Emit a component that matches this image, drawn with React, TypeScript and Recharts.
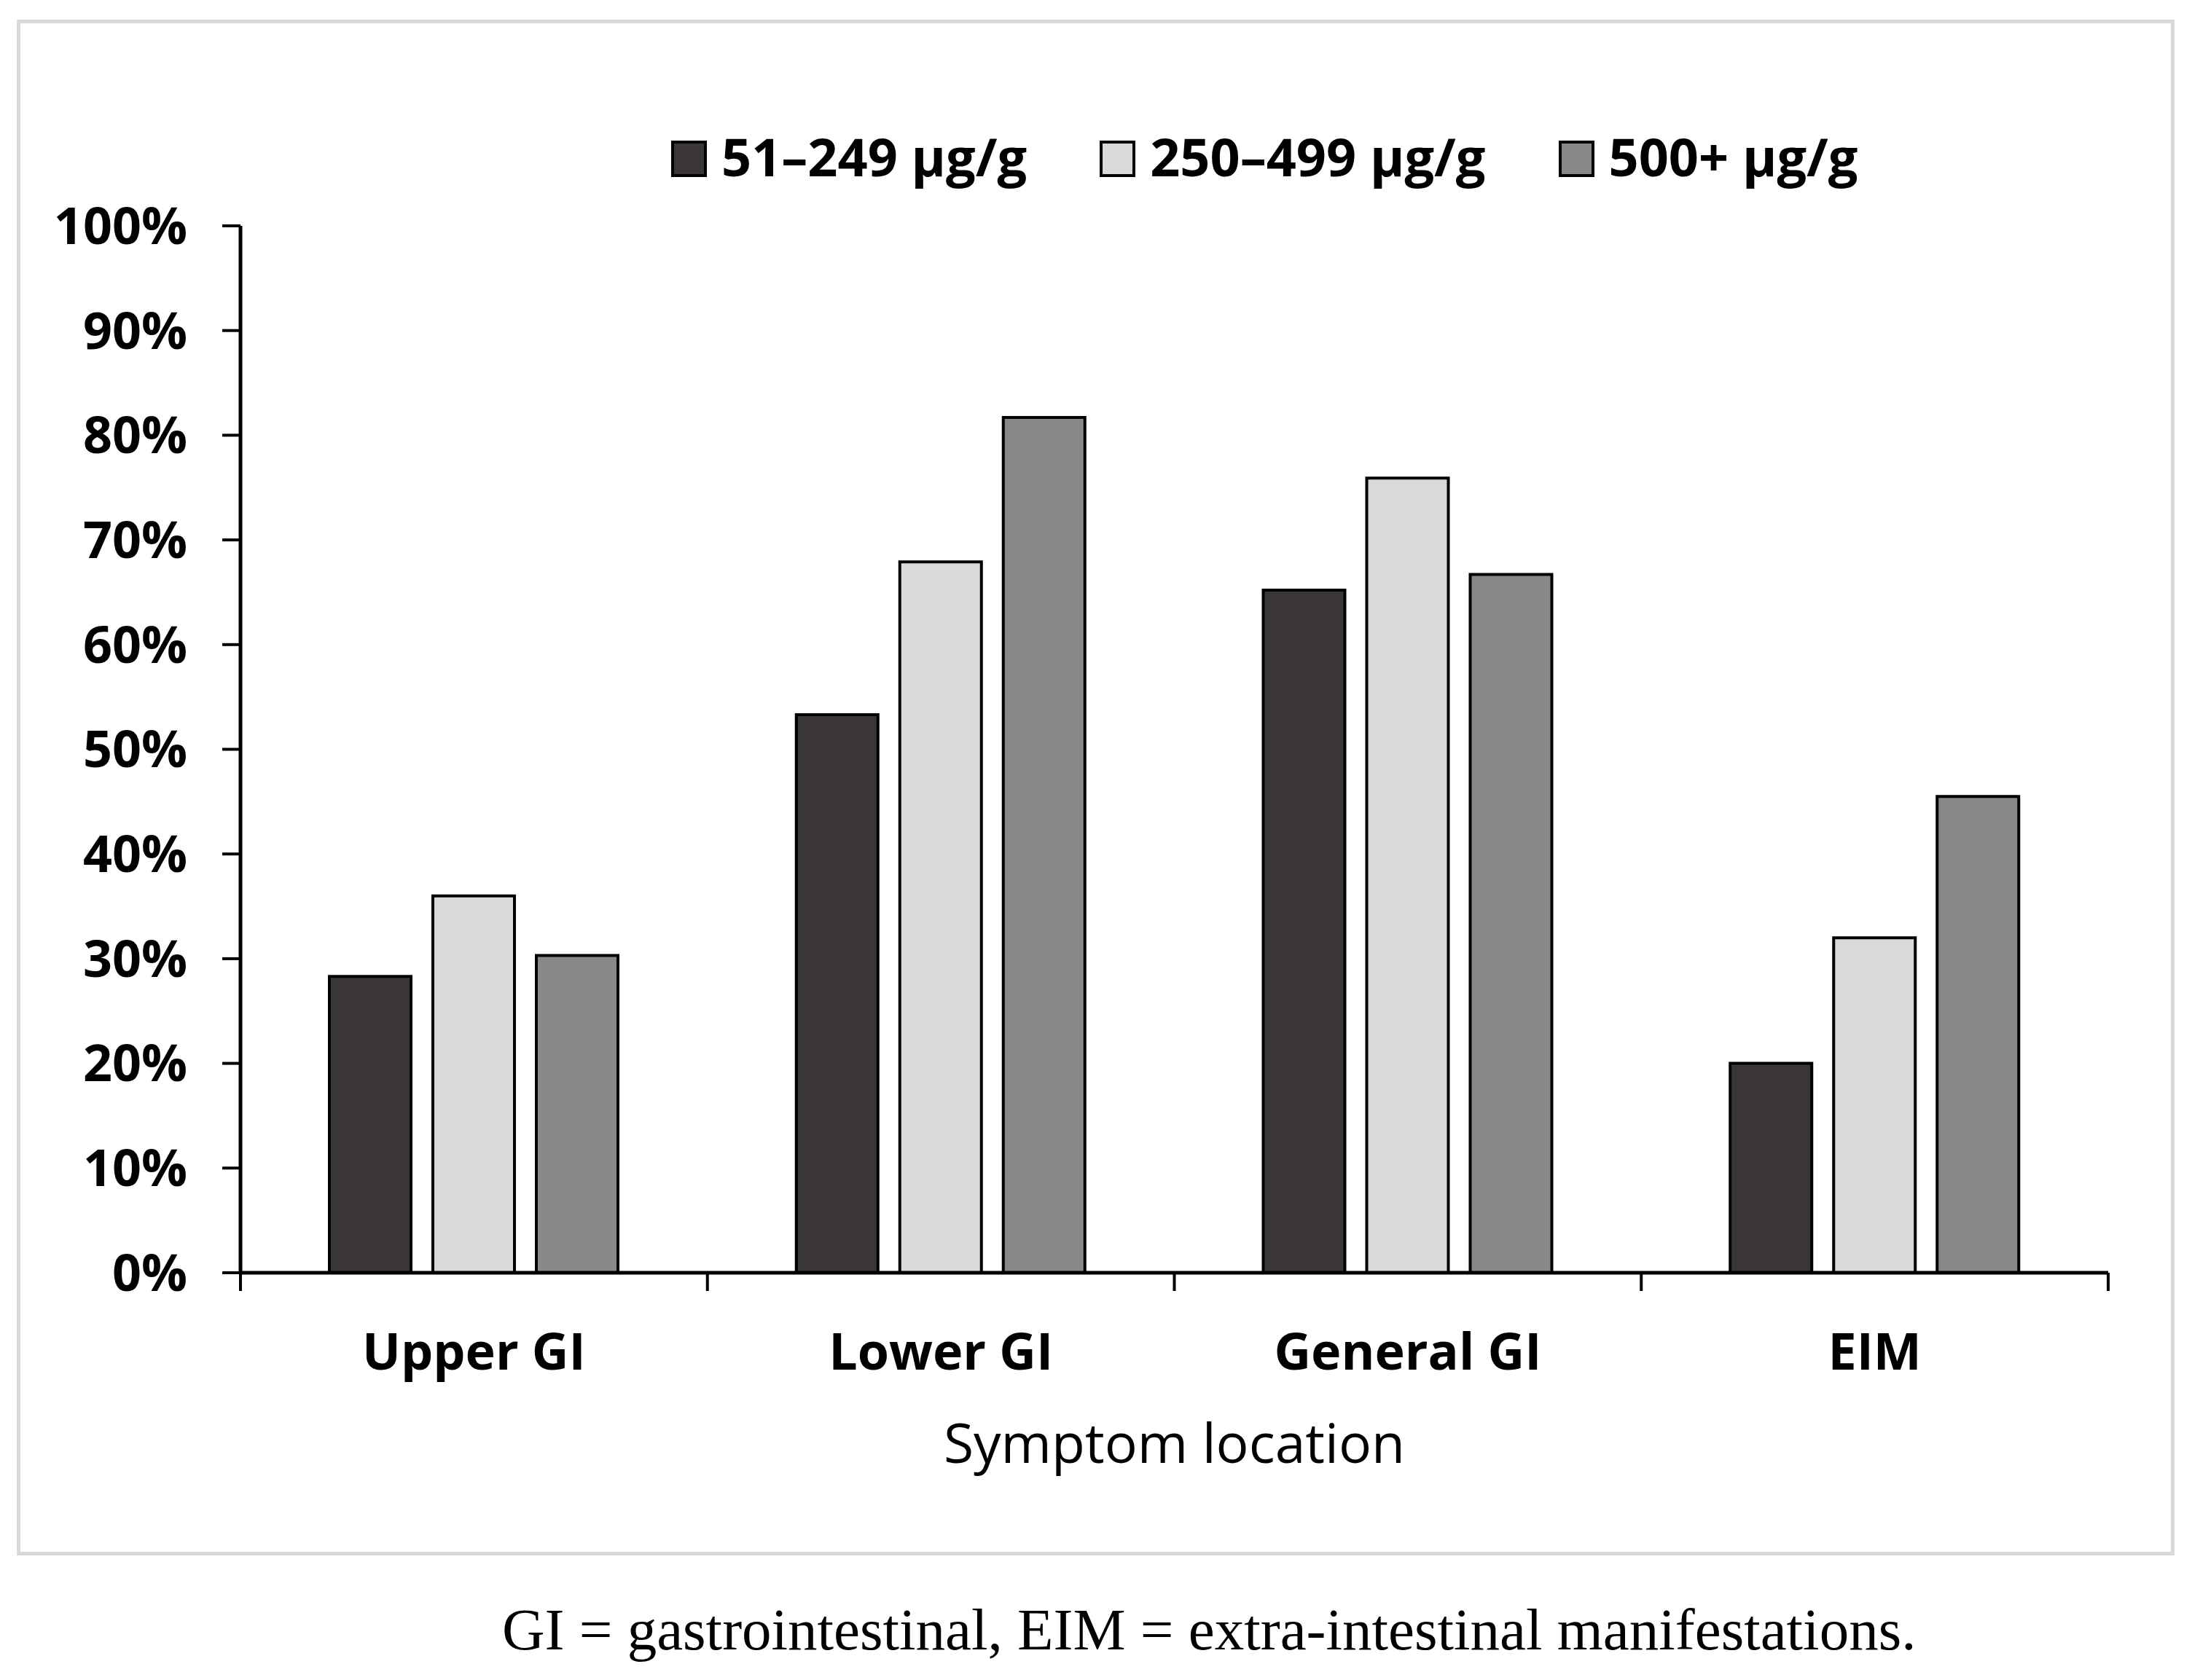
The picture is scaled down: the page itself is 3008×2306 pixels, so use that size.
import React from 'react';
import { BarChart, Bar, XAxis, YAxis, Legend, Label, Text } from 'recharts';

// values (percent of patients)
const categories = ['Upper GI', 'Lower GI', 'General GI', 'EIM'];
const lowLevel = [28.3, 53.3, 65.2, 20.0];
const midLevel = [36.0, 67.9, 75.9, 32.0];
const highLevel = [30.3, 81.7, 66.7, 45.5];
const seriesNames = ['51–249 μg/g', '250–499 μg/g', '500+ μg/g'];
const seriesColors = ['#3a3635', '#d9d9d9', '#888888'];
const yTicks = [0, 10, 20, 30, 40, 50, 60, 70, 80, 90, 100];

const data = categories.map((name, i) => ({
  name,
  low: lowLevel[i],
  mid: midLevel[i],
  high: highLevel[i],
}));

const SANS = "'Open Sans', sans-serif";
const X_TICK_MARGIN = 83;
const X_TICK_LEN = 25;

// category label plus the small tick marks sitting on the group boundaries
const CategoryTick = (props: any) => {
  const { x, y, payload, index, visibleTicksCount, width } = props;
  const count = visibleTicksCount || categories.length;
  const band = (width || 2563) / count;
  const axisY = y - X_TICK_MARGIN;
  const edge = (ex: number) => (
    <line x1={ex} x2={ex} y1={axisY} y2={axisY + X_TICK_LEN} stroke="#000" strokeWidth={4} />
  );
  return (
    <g>
      {edge(x - band / 2)}
      {index === count - 1 && edge(x + band / 2)}
      <Text
        x={x}
        y={y}
        textAnchor="middle"
        verticalAnchor="start"
        fontFamily={SANS}
        fontWeight={700}
        fontSize={70}
        fill="#000"
      >
        {payload.value}
      </Text>
    </g>
  );
};

// legend keeps the series order (recharts sorts its payload by name)
const renderLegend = () => (
  <div
    style={{
      display: 'flex',
      paddingLeft: 921,
      fontFamily: SANS,
      fontWeight: 700,
      fontSize: 72,
      lineHeight: '72px',
      color: '#000',
    }}
  >
    {seriesNames.map((name, i) => (
      <div key={name} style={{ display: 'flex', alignItems: 'flex-start', marginRight: 100 }}>
        <div
          style={{
            width: 49,
            height: 50,
            marginTop: 15,
            marginRight: 20,
            boxSizing: 'border-box',
            border: '4px solid #000',
            background: seriesColors[i],
          }}
        />
        <span style={{ whiteSpace: 'nowrap' }}>{name}</span>
      </div>
    ))}
  </div>
);

const App: React.FC = () => {
  return (
    <div style={{ position: 'absolute', left: 0, top: 0, width: 3008, height: 2306, background: '#fff' }}>
      {/* grey frame */}
      <div
        style={{
          position: 'absolute',
          left: 23,
          top: 27,
          width: 2961,
          height: 2108,
          boxSizing: 'border-box',
          border: '5px solid #d9d9d9',
        }}
      />
      <div style={{ position: 'absolute', left: 0, top: 0 }}>
        <BarChart
          width={3008}
          height={2306}
          data={data}
          margin={{ top: 238, right: 115, bottom: 558, left: 80 }}
          barSize={112}
          barGap={30}
        >
          <Legend
            verticalAlign="top"
            content={renderLegend}
            wrapperStyle={{ top: 178, left: 0, width: 3008, height: 72 }}
          />
          <XAxis
            dataKey="name"
            height={1}
            interval={0}
            tickLine={false}
            tickSize={0}
            tickMargin={X_TICK_MARGIN}
            axisLine={{ stroke: '#000', strokeWidth: 5 }}
            tick={<CategoryTick />}
          >
            <Label
              value="Symptom location"
              position="bottom"
              offset={207}
              style={{ fontFamily: SANS, fontSize: 75, fill: '#000' }}
            />
          </XAxis>
          <YAxis
            width={250}
            domain={[0, 100]}
            ticks={yTicks}
            interval={0}
            tickFormatter={(v: number) => `${v}%`}
            tickSize={25}
            tickMargin={48}
            axisLine={{ stroke: '#000', strokeWidth: 5 }}
            tickLine={{ stroke: '#000', strokeWidth: 4 }}
            tick={{ fontFamily: SANS, fontWeight: 700, fontSize: 70, fill: '#000' }}
          />
          <Bar dataKey="low" name={seriesNames[0]} fill={seriesColors[0]} stroke="#000" strokeWidth={4} isAnimationActive={false} />
          <Bar dataKey="mid" name={seriesNames[1]} fill={seriesColors[1]} stroke="#000" strokeWidth={4} isAnimationActive={false} />
          <Bar dataKey="high" name={seriesNames[2]} fill={seriesColors[2]} stroke="#000" strokeWidth={4} isAnimationActive={false} />
        </BarChart>
      </div>
      <div
        style={{
          position: 'absolute',
          left: 689,
          top: 2197,
          fontFamily: "'Liberation Serif', serif",
          fontSize: 81,
          lineHeight: '81px',
          whiteSpace: 'nowrap',
          color: '#000',
        }}
      >
        GI = gastrointestinal, EIM = extra-intestinal manifestations.
      </div>
    </div>
  );
};

export default App;
